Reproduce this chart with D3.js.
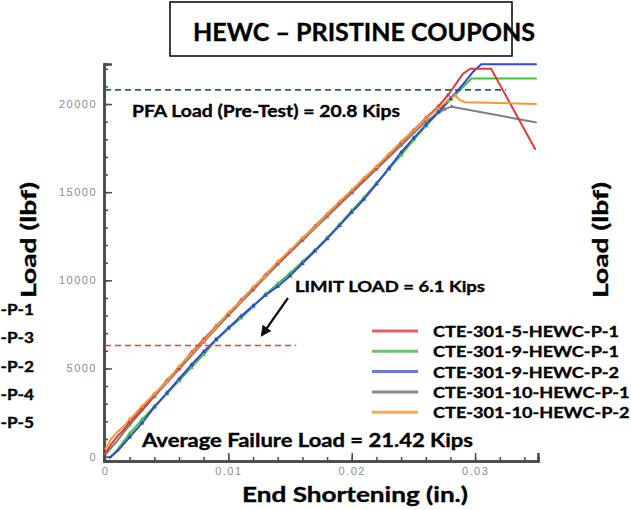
<!DOCTYPE html>
<html>
<head>
<meta charset="utf-8">
<script src="https://cdn.jsdelivr.net/npm/d3@7"></script>
<style>
  html, body { margin: 0; padding: 0; background: #fff; }
  svg { display: block; }
  .lbl { font-family: Lato, 'Open Sans', sans-serif; font-weight: bold; fill: #000; stroke: #000; stroke-width: 0.35px; }
  .tick text { font-family: 'Liberation Sans', Arial, sans-serif; fill: #8c8c8c; font-size: 11px; letter-spacing: 1.5px; }
</style>
</head>
<body>
<svg id="chart" width="631" height="510"></svg>
<script>
// series: [end shortening (in.), load (lbf)]
const red5P1 = [[0,150],[0.0005,700],[0.001,1150],[0.0015,1500],[0.002,1950],[0.003,2700],[0.004,3500],[0.005,4300],[0.006,5050],[0.007,5900],[0.008,6650],[0.009,7400],[0.010,8100],[0.011,8850],[0.012,9550],[0.013,10300],[0.014,11000],[0.015,11650],[0.016,12350],[0.017,13050],[0.018,13750],[0.019,14400],[0.020,15050],[0.021,15750],[0.022,16400],[0.023,17100],[0.024,17800],[0.025,18500],[0.026,19200],[0.027,19850],[0.0278,20500],[0.0285,21200],[0.029,21700],[0.0296,22000],[0.0313,22000],[0.0349,17400]]
const green9P1 = [[0.0005,0],[0.001,400],[0.002,1300],[0.003,2100],[0.004,2850],[0.005,3550],[0.006,4300],[0.007,5050],[0.008,5800],[0.009,6600],[0.010,7250],[0.011,7850],[0.012,8500],[0.013,9200],[0.014,9800],[0.015,10400],[0.016,11050],[0.017,11700],[0.018,12400],[0.019,13150],[0.020,13950],[0.021,14700],[0.022,15500],[0.023,16300],[0.024,17100],[0.025,17950],[0.026,18750],[0.027,19500],[0.028,20250],[0.029,20950],[0.0297,21450],[0.035,21450]]
const blue9P2 = [[0.0003,-100],[0.001,300],[0.002,1100],[0.003,1900],[0.004,2800],[0.005,3600],[0.006,4400],[0.007,5200],[0.008,5950],[0.009,6650],[0.010,7300],[0.011,7950],[0.012,8550],[0.013,9150],[0.014,9650],[0.015,10250],[0.016,10950],[0.017,11650],[0.018,12350],[0.019,13100],[0.020,13850],[0.021,14600],[0.022,15450],[0.023,16350],[0.024,17250],[0.025,18050],[0.026,18800],[0.027,19550],[0.028,20300],[0.029,21100],[0.0298,21800],[0.0305,22250],[0.035,22250]]
const grey10P1 = [[0,100],[0.001,900],[0.002,1800],[0.004,3400],[0.006,4950],[0.008,6500],[0.010,8000],[0.012,9450],[0.014,10900],[0.016,12250],[0.018,13600],[0.020,14950],[0.022,16300],[0.024,17650],[0.026,19000],[0.0275,19700],[0.0281,19850],[0.035,18950]]
const orange10P2 = [[0,400],[0.0005,1000],[0.001,1400],[0.0015,1700],[0.002,2100],[0.003,2850],[0.004,3550],[0.005,4250],[0.006,5100],[0.007,5850],[0.008,6550],[0.009,7350],[0.010,8150],[0.011,8800],[0.012,9600],[0.013,10250],[0.014,11050],[0.015,11700],[0.016,12400],[0.017,13000],[0.018,13750],[0.019,14450],[0.020,15100],[0.021,15800],[0.022,16450],[0.023,17150],[0.024,17850],[0.025,18500],[0.026,19150],[0.027,19750],[0.0278,20200],[0.0284,20500],[0.0287,20250],[0.0292,20100],[0.035,20000]]

const seriesNames = ['CTE-301-5-HEWC-P-1', 'CTE-301-9-HEWC-P-1', 'CTE-301-9-HEWC-P-2', 'CTE-301-10-HEWC-P-1', 'CTE-301-10-HEWC-P-2']
const seriesData = [red5P1, green9P1, blue9P2, grey10P1, orange10P2]
const lineColors = ['#dc3b3b', '#3ec43e', '#3346d6', '#7f7f7f', '#f5963a']
const legendColors = ['#e06262', '#62c862', '#6f7ad8', '#8a8a8a', '#f3aa62']
const drawOrder = [3, 1, 2, 0, 4]

const xMajorTicks = [0, 0.01, 0.02, 0.03]
const yMajorTicks = [0, 5000, 10000, 15000, 20000]
const sideLabels = ['-P-1', '-P-3', '-P-2', '-P-4', '-P-5']

const pfaLoad = 20800
const limitLoad = 6300

const svg = d3.select('#chart')

const x = d3.scaleLinear().domain([-0.00008, 0.0351]).range([104, 538])
const y = d3.scaleLinear().domain([-250, 22270]).range([461, 64])

// title
svg.append('rect')
  .attr('x', 170).attr('y', 2).attr('width', 342).attr('height', 54)
  .attr('fill', 'none').attr('stroke', '#000').attr('stroke-width', 1.5)
svg.append('text').attr('class', 'lbl')
  .attr('x', 193).attr('y', 41)
  .attr('font-size', 25)
  .attr('textLength', 342).attr('lengthAdjust', 'spacingAndGlyphs')
  .text('HEWC – PRISTINE COUPONS')

// axes
const axisG = svg.append('g')
axisG.append('g')
  .attr('transform', `translate(${x.range()[0]},0)`)
  .call(d3.axisLeft(y).tickValues(d3.range(1000, 22001, 1000)).tickSize(-4).tickFormat(''))
axisG.append('g')
  .attr('transform', `translate(${x.range()[0]},0)`)
  .call(d3.axisLeft(y).tickValues(yMajorTicks).tickSize(-8).tickPadding(7).tickFormat(d3.format('d')))
axisG.append('g')
  .attr('transform', `translate(0,${y.range()[0]})`)
  .call(d3.axisBottom(x).tickValues(d3.range(0.002, 0.035, 0.002)).tickSize(-4).tickFormat(''))
axisG.append('g')
  .attr('transform', `translate(0,${y.range()[0]})`)
  .call(d3.axisBottom(x).tickValues(xMajorTicks).tickSize(-8).tickPadding(6).tickFormat((d) => (d === 0 ? '0' : d3.format('.2f')(d))))
axisG.selectAll('.domain').attr('stroke', '#4a4a4a').attr('stroke-width', 2.5)
axisG.selectAll('.tick line').attr('stroke', '#4a4a4a').attr('stroke-width', 1.5)

// curves
const line = d3.line().x((d) => x(d[0])).y((d) => y(d[1]))
const curves = svg.append('g')
curves.selectAll('path')
  .data(drawOrder)
  .join('path')
  .attr('d', (i) => line(seriesData[i]))
  .attr('fill', 'none')
  .attr('stroke', (i) => lineColors[i])
  .attr('stroke-width', 2)
  .attr('stroke-linejoin', 'round')

// small triangle symbols along the curves
const tri = d3.symbol().type(d3.symbolTriangle).size(10)
drawOrder.forEach((i) => {
  curves.append('g')
    .selectAll('path')
    .data(seriesData[i].filter((d) => d[0] > 0.0015 && d[0] < 0.0285))
    .join('path')
    .attr('transform', (d) => `translate(${x(d[0])},${y(d[1])})`)
    .attr('d', tri)
    .attr('fill', lineColors[i])
})

// reference lines
svg.append('line')
  .attr('x1', x(0)).attr('x2', x(0.0325))
  .attr('y1', y(pfaLoad)).attr('y2', y(pfaLoad))
  .attr('stroke', '#2b5d76').attr('stroke-width', 1.6).attr('stroke-dasharray', '6,4')
svg.append('line')
  .attr('x1', x(0)).attr('x2', x(0.0155))
  .attr('y1', y(limitLoad)).attr('y2', y(limitLoad))
  .attr('stroke', '#e04040').attr('stroke-width', 1.6).attr('stroke-dasharray', '6,4')

// arrow
svg.append('defs').append('marker')
  .attr('id', 'arrow').attr('viewBox', '0 0 10 10')
  .attr('refX', 8).attr('refY', 5)
  .attr('markerWidth', 5).attr('markerHeight', 5)
  .attr('orient', 'auto')
  .append('path').attr('d', 'M0,0L10,5L0,10Z').attr('fill', '#111')
svg.append('line')
  .attr('x1', 288).attr('y1', 298).attr('x2', 262).attr('y2', 335)
  .attr('stroke', '#111').attr('stroke-width', 2.2).attr('marker-end', 'url(#arrow)')

// annotations
const note = (tx, ty, size, len, str) =>
  svg.append('text').attr('class', 'lbl')
    .attr('x', tx).attr('y', ty).attr('font-size', size)
    .attr('textLength', len).attr('lengthAdjust', 'spacingAndGlyphs')
    .text(str)

note(132, 117, 17, 268, 'PFA Load (Pre-Test) = 20.8 Kips')
note(295, 292, 16, 190, 'LIMIT LOAD = 6.1 Kips')
note(142, 447, 18, 331, 'Average Failure Load = 21.42 Kips')
note(242, 502, 21, 226, 'End Shortening (in.)')

// y titles, left and right
;[36, 608].forEach((cx) => {
  svg.append('text').attr('class', 'lbl')
    .attr('transform', `translate(${cx},240) rotate(-90)`)
    .attr('text-anchor', 'middle')
    .attr('font-size', 21)
    .attr('textLength', 116).attr('lengthAdjust', 'spacingAndGlyphs')
    .text('Load (lbf)')
})

// cut-off labels on the left edge
svg.append('g')
  .selectAll('text')
  .data(sideLabels)
  .join('text')
  .attr('class', 'lbl')
  .attr('x', 34)
  .attr('y', (d, i) => 315 + i * 28.3)
  .attr('text-anchor', 'end')
  .attr('font-size', 15)
  .text((d) => d)
  .each(function () {
    const w = this.getComputedTextLength()
    d3.select(this).attr('textLength', w * 1.15).attr('lengthAdjust', 'spacingAndGlyphs')
  })

// legend
const legend = svg.append('g')
legend.selectAll('line')
  .data(seriesNames)
  .join('line')
  .attr('x1', 372).attr('x2', 418)
  .attr('y1', (d, i) => 331 + i * 20.3)
  .attr('y2', (d, i) => 331 + i * 20.3)
  .attr('stroke', (d, i) => legendColors[i])
  .attr('stroke-width', 3)
legend.selectAll('text')
  .data(seriesNames)
  .join('text')
  .attr('class', 'lbl')
  .attr('x', 433)
  .attr('y', (d, i) => 337 + i * 20.3)
  .attr('font-size', 15.5)
  .text((d) => d)
  .each(function () {
    const w = this.getComputedTextLength()
    d3.select(this).attr('textLength', w * 1.17).attr('lengthAdjust', 'spacingAndGlyphs')
  })
</script>
</body>
</html>
